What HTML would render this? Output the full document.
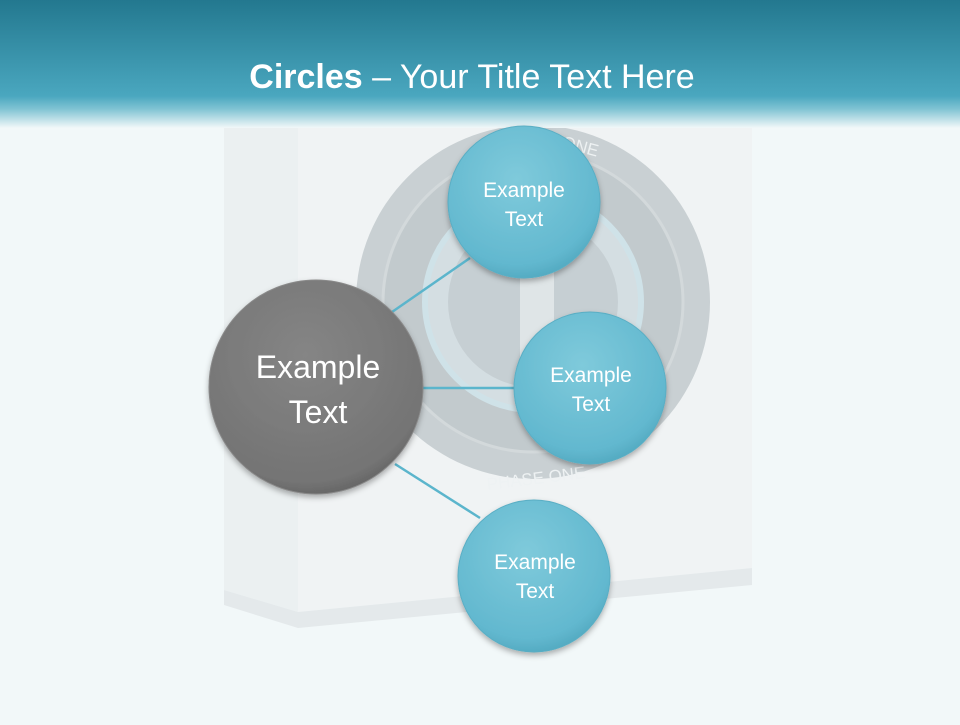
<!DOCTYPE html>
<html><head><style>
body{margin:0;width:960px;height:720px;overflow:hidden;background:#f2f8f9;font-family:"Liberation Sans",sans-serif;}
</style></head><body>
<svg width="960" height="720" viewBox="0 0 960 720" xmlns="http://www.w3.org/2000/svg">
<defs>
<linearGradient id="hdr" x1="0" y1="0" x2="0" y2="1">
<stop offset="0" stop-color="#23788f"/><stop offset="0.75" stop-color="#4aa7bf"/><stop offset="0.85" stop-color="#7fc3d3"/><stop offset="1" stop-color="#f2f8f9"/>
</linearGradient>
<radialGradient id="blue" cx="0.45" cy="0.35" r="0.7">
<stop offset="0" stop-color="#7fcadb"/><stop offset="0.8" stop-color="#62b8cf"/><stop offset="1" stop-color="#4ea5bc"/>
</radialGradient>
<radialGradient id="gray" cx="0.45" cy="0.35" r="0.7">
<stop offset="0" stop-color="#858585"/><stop offset="0.85" stop-color="#747474"/><stop offset="1" stop-color="#5e5e5e"/>
</radialGradient>
<filter id="sh" x="-20%" y="-20%" width="140%" height="150%"><feDropShadow dx="0" dy="3" stdDeviation="3" flood-opacity="0.3"/></filter>
</defs>
<rect width="960" height="720" fill="#f2f8f9"/>
<polygon points="224,118 298,118 298,612 224,590" fill="#ebf0f1"/>
<polygon points="298,118 752,118 752,568 298,612" fill="#f0f3f4"/>
<polygon points="224,590 298,612 752,568 752,585 298,628 224,605" fill="#e4e9eb"/>
<circle cx="533" cy="302" r="177" fill="#c9d0d3"/>
<circle cx="533" cy="302" r="150" fill="#c2cacd" stroke="#d3d9db" stroke-width="3"/>
<circle cx="533" cy="302" r="108" fill="#d4dee2" stroke="#cfe2e8" stroke-width="6"/>
<circle cx="533" cy="302" r="85" fill="#c6cfd3"/>
<rect x="520" y="265" width="34" height="120" fill="#dfe5e7"/>
<text x="536" y="484" font-size="17" fill="#eef2f3" text-anchor="middle" transform="rotate(-7 536 478)">PHASE ONE</text>
<text x="580" y="152" font-size="17" fill="#eef2f3" text-anchor="middle" transform="rotate(15 580 148)">ONE</text>
<rect x="0" y="0" width="960" height="128" fill="url(#hdr)"/>
<text x="472" y="88" font-size="34" fill="#fff" text-anchor="middle"><tspan font-weight="bold">Circles</tspan> – Your Title Text Here</text>
<g stroke="#5bb5cc" stroke-width="2.5">
<line x1="392" y1="312" x2="470" y2="258"/>
<line x1="420" y1="388" x2="516" y2="388"/>
<line x1="395" y1="464" x2="480" y2="518"/>
</g>
<g filter="url(#sh)">
<circle cx="316" cy="387" r="107" fill="url(#gray)" stroke="#8a8a8a" stroke-width="1"/>
<circle cx="524" cy="202" r="76" fill="url(#blue)" stroke="#5aaec4"/>
<circle cx="590" cy="388" r="76" fill="url(#blue)" stroke="#5aaec4"/>
<circle cx="534" cy="576" r="76" fill="url(#blue)" stroke="#5aaec4"/>
</g>
<g fill="#fff" text-anchor="middle" font-size="21">
<text x="524" y="197">Example</text><text x="524" y="226">Text</text>
<text x="591" y="382">Example</text><text x="591" y="411">Text</text>
<text x="535" y="569">Example</text><text x="535" y="598">Text</text>
</g>
<g fill="#fff" text-anchor="middle" font-size="32">
<text x="318" y="378">Example</text><text x="318" y="423">Text</text>
</g>
</svg>
</body></html>
